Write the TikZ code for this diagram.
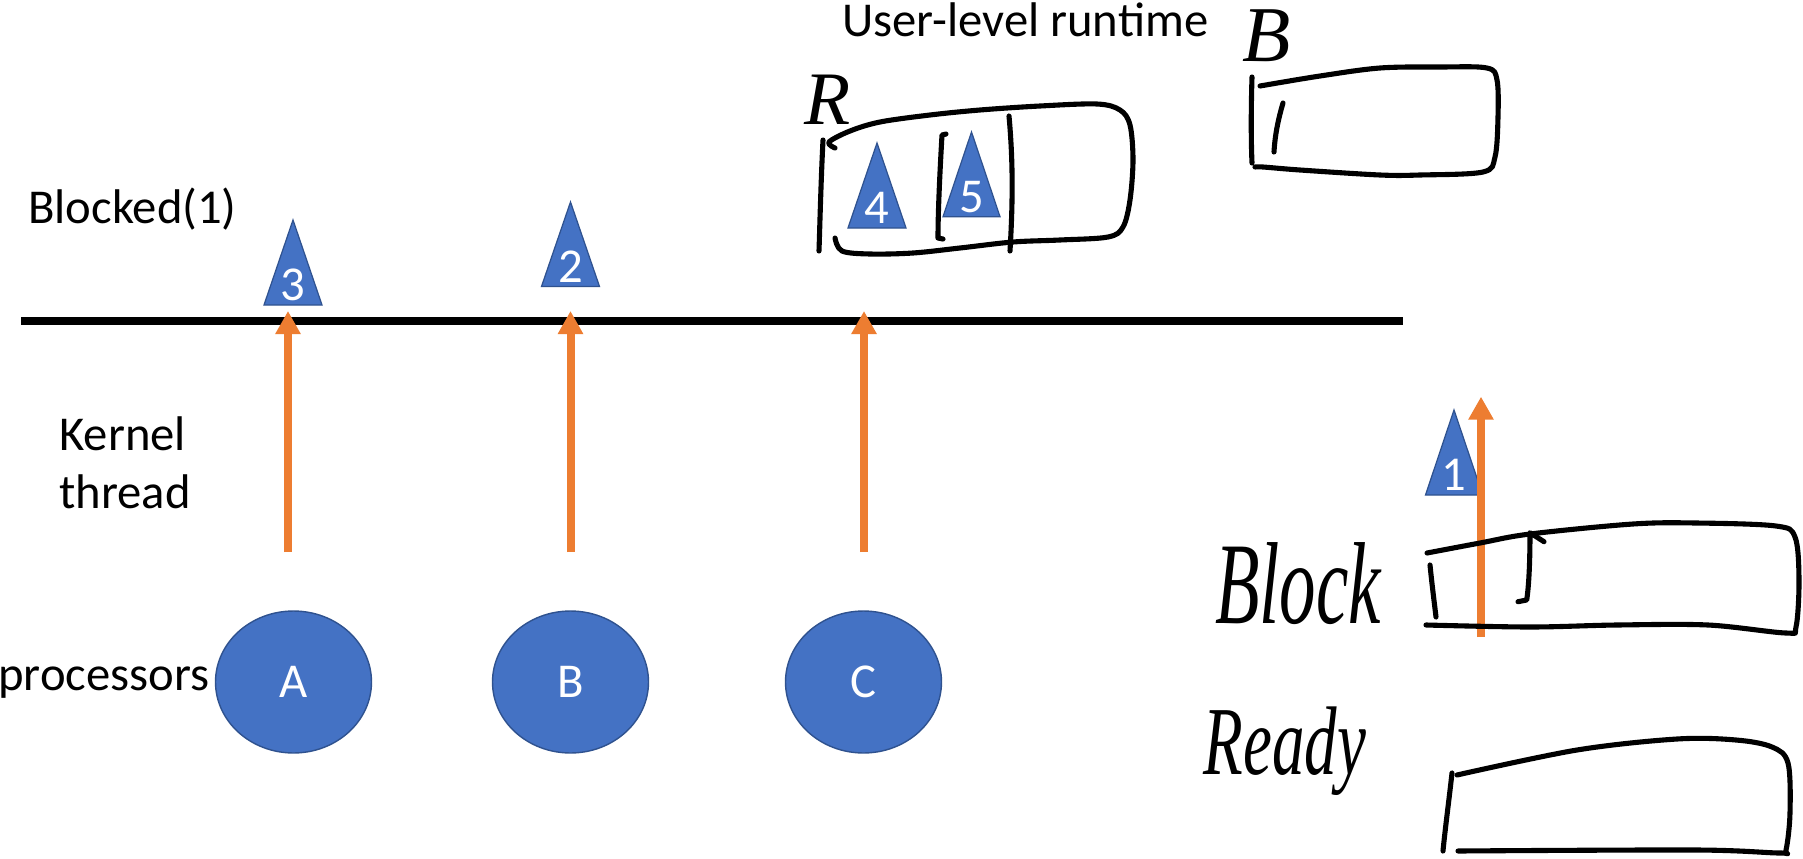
\documentclass[tikz,border=0pt]{standalone}
\usepackage{fontspec}
\setmainfont{Carlito}
\newfontfamily\handfont{Liberation Serif}
\usepackage{graphicx}
\usetikzlibrary{shapes.geometric,arrows.meta}
\definecolor{offblue}{HTML}{4472C4}
\definecolor{offborder}{HTML}{2F528F}
\definecolor{offorange}{HTML}{ED7D31}
\begin{document}
\begin{tikzpicture}[x=0.02cm,y=-0.02cm,
  lbl/.style={font=\fontsize{27.7}{34}\selectfont, inner sep=0pt, anchor=base west},
  proc/.style={ellipse, fill=offblue, draw=offborder, line width=0.8pt,
    minimum width=3.12cm, minimum height=2.84cm, inner sep=0pt, text=white,
    font=\fontsize{27.7}{34}\selectfont},
  tri/.style={fill=offblue, draw=offborder, line width=0.7pt, line join=miter},
  digit/.style={text=white, font=\fontsize{27.7}{34}\selectfont, inner sep=0pt, anchor=base},
  karrow/.style={draw=offorange, line width=4.55pt, -{Triangle[width=13.66pt,length=13.1pt]}},
  hand/.style={draw=black, line width=2.9pt, line cap=round, line join=round},
  handtext/.style={inner sep=0pt}
]
\fill[white] (0,0) rectangle (1803,859);
\useasboundingbox (0,0) rectangle (1803,859);

% texts
\node[lbl] (ulr) at (842,36) {User-level runtime};
\node[lbl] (blk1) at (28,223) {Blocked(1)};
\node[lbl] (kt1) at (59,450.7) {Kernel};
\node[lbl] (kt2) at (59,508) {thread};
\node[lbl] (procs) at (-2,690) {processors};

% main line
\coordinate (lineL) at (21,321);
\coordinate (lineR) at (1403,321);
\draw[line width=4.55pt] (lineL) -- (lineR);

% processors
\node[proc] (pA) at (293.5,682) {A};
\node[proc] (pB) at (570.5,682) {B};
\node[proc] (pC) at (863.5,682) {C};

% kernel thread arrows
\coordinate (aA0) at (288,552);   \coordinate (aA1) at (288,311);
\coordinate (aB0) at (570.5,552); \coordinate (aB1) at (570.5,311);
\coordinate (aC0) at (864,552);   \coordinate (aC1) at (864,311);
\draw[karrow] (aA0) -- (aA1);
\draw[karrow] (aB0) -- (aB1);
\draw[karrow] (aC0) -- (aC1);

% user threads (triangles)
\path[tri] (293,220) -- (322,305) -- (264,305) -- cycle;
\node[digit] (d3) at (293,300.5) {3};
\path[tri] (570.5,202) -- (599.5,286.5) -- (541.5,286.5) -- cycle;
\node[digit] (d2) at (570.5,282) {2};
\path[tri] (877,143) -- (906,228) -- (848,228) -- cycle;
\node[digit] (d4) at (877,223.5) {4};
\path[tri] (971.5,132) -- (1000,216.7) -- (943,216.7) -- cycle;
\node[digit] (d5) at (971.5,212.2) {5};
\path[tri] (1454,410) -- (1482.7,495) -- (1425.5,495) -- cycle;
\node[digit] (d1) at (1454,490) {1};

% right arrow
\coordinate (aR0) at (1481,637);
\coordinate (aR1) at (1481,396.7);
\draw[karrow] (aR0) -- (aR1);

% handwritten labels
\node[handtext, font=\handfont\itshape\fontsize{43}{43}\selectfont] (hR) at (828,100) {R};
\node[handtext, font=\handfont\itshape\fontsize{45}{45}\selectfont] (hB) at (1267,36) {B};
\node[handtext, font=\handfont\itshape\fontsize{41.5}{41.5}\selectfont] (hBlock) at (1298,584) {\scalebox{1}[1.6]{Block}};
\node[handtext, font=\handfont\itshape\fontsize{37}{37}\selectfont] (hReady) at (1285,751) {\scalebox{1}[1.5]{Ready}};

% R box
\draw[hand] (823,140) .. controls (821,180) and (820,220) .. (819,251);
\draw[hand] plot[smooth, tension=0.55] coordinates {(835,148) (829,142) (850,131) (880,122) (930,115) (980,110) (1040,106) (1097,104) (1120,110) (1130,125) (1133,160) (1130,200) (1123,227) (1108,237) (1060,240) (1013,242) (960,248) (913,253) (870,254) (842,251) (835,238)};
\draw[hand] (946,134) -- (942,135) .. controls (940,170) and (938,210) .. (938,238) -- (943,239);
\draw[hand] (1009,116) .. controls (1013,160) and (1013,200) .. (1010,251);

% B box
\draw[hand] (1252,77) .. controls (1251,110) and (1251,140) .. (1252,163);
\draw[hand] plot[smooth, tension=0.55] coordinates {(1260,86) (1320,76) (1380,68) (1440,67) (1487,68) (1497,80) (1498,117) (1495,157) (1483,172) (1420,175) (1380,175) (1300,170) (1263,167) (1255,167)};
\draw[hand] (1283,103) .. controls (1278,120) and (1275,135) .. (1274,152);

% Block box
\draw[hand] (1430,565) .. controls (1432,585) and (1434,600) .. (1436,617);
\draw[hand] plot[smooth, tension=0.55] coordinates {(1427,553) (1480,543) (1530,534) (1633,524) (1696,523) (1776,526) (1795,537) (1799,580) (1796,627) (1786,633) (1708,625) (1617,625) (1530,627) (1426,625)};
\draw[hand] (1544,541.7) -- (1530,532.7) .. controls (1530,560) and (1529,585) .. (1526.7,600) -- (1518,601.7);

% Ready box
\draw[hand] (1452,773) .. controls (1449,800) and (1445,830) .. (1443,851);
\draw[hand] plot[smooth, tension=0.55] coordinates {(1457,775) (1577,750) (1677,739) (1736,740) (1772,747) (1788,763) (1790,813) (1786,850) (1780,853) (1696,850) (1458,851)};
\end{tikzpicture}
\end{document}
